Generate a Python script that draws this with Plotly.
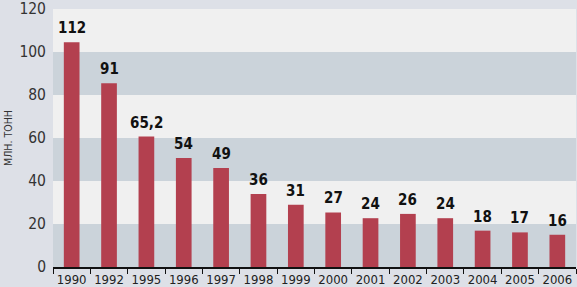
import plotly.graph_objects as go

years = ["1990", "1992", "1995", "1996", "1997", "1998", "1999", "2000",
         "2001", "2002", "2003", "2004", "2005", "2006"]
# bar heights as drawn in the picture
bar_heights = [104.5, 85.5, 60.7, 50.7, 46.1, 33.9, 29.0, 25.4,
               22.7, 24.7, 22.7, 16.9, 16.1, 15.0]
# value labels printed above bars
labels = ["112", "91", "65,2", "54", "49", "36", "31", "27",
          "24", "26", "24", "18", "17", "16"]
y_ticks = [0, 20, 40, 60, 80, 100, 120]
axis_title = "МЛН. ТОНН"

BAR = "#b3404f"
GRAY_BAND = "#cbd3da"
LIGHT_BAND = "#f0f0f0"
PAPER = "#dde0e7"
FONT = "DejaVu Sans Condensed, Roboto, sans-serif"

pos = list(range(len(years)))
bounds = [p - 0.5 for p in pos] + [pos[-1] + 0.5]

fig = go.Figure()
fig.add_trace(go.Bar(x=pos, y=bar_heights, marker=dict(color=BAR, line=dict(width=0)),
                     width=0.42, hoverinfo="skip"))

shapes = []
for i in range(len(y_ticks) - 1):
    shapes.append(dict(type="rect", xref="paper", yref="y", x0=0, x1=1,
                       y0=y_ticks[i], y1=y_ticks[i + 1],
                       fillcolor=GRAY_BAND if i % 2 == 0 else LIGHT_BAND,
                       line=dict(width=0), layer="below"))

annotations = []
for x, h, t in zip(pos, bar_heights, labels):
    annotations.append(dict(x=x, y=h, xref="x", yref="y", text="<b>" + t + "</b>",
                            showarrow=False, yanchor="bottom", yshift=3,
                            font=dict(family=FONT, size=15, color="#111111")))

fig.update_layout(
    width=577, height=287,
    margin=dict(l=53, r=1, t=9, b=20),
    paper_bgcolor=PAPER, plot_bgcolor=LIGHT_BAND,
    showlegend=False,
    shapes=shapes, annotations=annotations,
)
fig.update_xaxes(range=[-0.5, len(years) - 0.5], tickvals=pos, ticktext=years,
                 showgrid=False, zeroline=False, showline=True, linecolor="#111111",
                 linewidth=1.5, ticks="", ticklabelstandoff=0, automargin=False,
                 minor=dict(tickvals=bounds, ticks="outside", ticklen=5,
                            tickcolor="#111111", tickwidth=1, showgrid=False),
                 tickfont=dict(family=FONT, size=13, color="#222222"),
                 fixedrange=True)
fig.update_yaxes(range=[0, 120], tickvals=y_ticks, showgrid=False, zeroline=False,
                 showline=False, ticks="", ticklabelstandoff=6, automargin=False,
                 ticklabeloverflow="allow",
                 tickfont=dict(family=FONT, size=15.5, color="#333333"),
                 title=dict(text=axis_title, standoff=4,
                            font=dict(family=FONT, size=10.5, color="#333333")),
                 fixedrange=True)

fig.write_html("out.html", config={"displayModeBar": False},
               post_script="document.body.style.margin='0';document.body.style.overflow='hidden';")
